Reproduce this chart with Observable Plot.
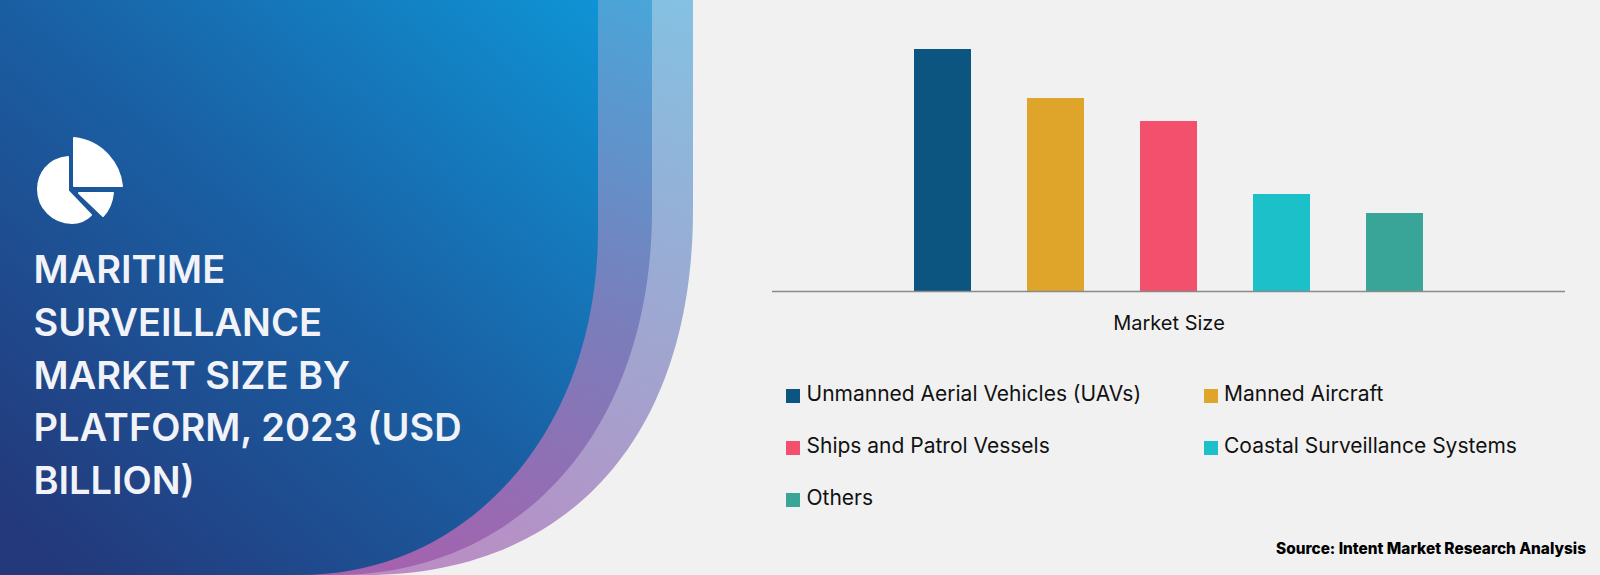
<!DOCTYPE html>
<html>
<head>
<meta charset="utf-8">
<script src="https://cdn.jsdelivr.net/npm/d3@7"></script>
<script src="https://cdn.jsdelivr.net/npm/@observablehq/plot@0.6"></script>
<style>
  html,body{margin:0;padding:0;background:#f1f1f1;}
  #page{position:relative;width:1600px;height:575px;overflow:hidden;background:#f1f1f1;font-family:Inter,"Noto Sans",sans-serif;}
  #panel{position:absolute;left:0;top:0;}
  #title{position:absolute;left:33.5px;top:243px;margin:0;color:#f1f3f8;font-size:38px;font-weight:600;line-height:52.8px;white-space:nowrap;}
  #chart{position:absolute;left:760px;top:0;}
  #legend{position:absolute;left:786px;top:367px;display:grid;grid-template-columns:417.5px auto;grid-auto-rows:52px;}
  .item{display:flex;align-items:center;height:52px;font-size:21px;color:#111;white-space:nowrap;}
  .swatch{width:14px;height:14px;margin-right:6.5px;position:relative;top:3px;}
  #source{position:absolute;right:14px;top:539px;font-size:15.4px;font-weight:800;color:#000;white-space:nowrap;}
</style>
</head>
<body>
<div id="page">
  <svg id="panel" width="760" height="575" viewBox="0 0 760 575">
    <defs>
      <linearGradient id="g1" gradientUnits="userSpaceOnUse" x1="70" y1="575" x2="590" y2="0">
        <stop offset="0" stop-color="#23397b"/><stop offset="0.5" stop-color="#1a5fa3"/><stop offset="1" stop-color="#0f93d4"/>
      </linearGradient>
      <linearGradient id="g2" gradientUnits="userSpaceOnUse" x1="400" y1="575" x2="640" y2="0">
        <stop offset="0" stop-color="#a562ae"/><stop offset="0.5" stop-color="#7b7dbb"/><stop offset="1" stop-color="#4aa5d8"/>
      </linearGradient>
      <linearGradient id="g3" gradientUnits="userSpaceOnUse" x1="420" y1="575" x2="680" y2="0">
        <stop offset="0" stop-color="#bb8cc4"/><stop offset="0.5" stop-color="#9fa6d0"/><stop offset="1" stop-color="#84c1e2"/>
      </linearGradient>
    </defs>
    <path fill="url(#g3)" d="M0,0 L693,0 L693,210 C693,435 570,575 365,575 L0,575 Z"/>
    <path fill="url(#g2)" d="M0,0 L652,0 L652,210 C652,430 520,575 335,575 L0,575 Z"/>
    <path fill="url(#g1)" d="M0,0 L598,0 L598,230 C598,430 470,575 300,575 L0,575 Z"/>
    <g fill="#fff" stroke="#fff" stroke-width="2" stroke-linejoin="round">
      <path d="M74,138 C103,141 120,165 122,186 L74,186 Z"/>
      <path d="M68,157 C48,159 38,174 38,189 C38,208 53,223 72,223 C80,223 86,220 91,215 L68,191 Z"/>
      <path d="M79,193 L113,193 C112,202 109,210 103,216 Z"/>
    </g>
  </svg>
  <h1 id="title">MARITIME<br>SURVEILLANCE<br>MARKET SIZE BY<br>PLATFORM, 2023 (USD<br>BILLION)</h1>
  <div id="chart"></div>
  <div id="legend"></div>
  <div id="source">Source: Intent Market Research Analysis</div>
</div>
<script>
const group = "Market Size";
const platforms = ["Unmanned Aerial Vehicles (UAVs)", "Manned Aircraft", "Ships and Patrol Vessels", "Coastal Surveillance Systems", "Others"];
const values = [12.1, 9.65, 8.5, 4.85, 3.9];
const colors = ["#0b5580", "#dfa52a", "#f2506c", "#1cc0c9", "#39a599"];

const rows = platforms.map((platform, i) => ({group, platform, value: values[i]}));

const chart = Plot.plot({
  width: 840,
  height: 345,
  marginTop: 49,
  marginBottom: 54,
  marginLeft: 12,
  marginRight: 35,
  style: {background: "transparent", fontFamily: "Inter, 'Noto Sans', sans-serif", fontSize: "20px", color: "#111"},
  fx: {domain: [group], padding: 0, label: null},
  x: {domain: platforms, range: [96.6, 719.2], padding: 0.5, axis: null},
  y: {domain: [0, 12.1], axis: null},
  color: {domain: platforms, range: colors},
  marks: [
    Plot.barY(rows, {fx: "group", x: "platform", y: "value", fill: "platform"}),
    Plot.ruleY([0], {stroke: "#8a8a8a", strokeWidth: 1.5}),
    Plot.axisFx({anchor: "bottom", tickSize: 0, tickPadding: 24, label: null, fontSize: 20})
  ]
});
document.getElementById("chart").append(chart);

const legend = d3.select("#legend");
platforms.forEach((p, i) => {
  const item = legend.append("div").attr("class", "item");
  item.append("span").attr("class", "swatch").style("background", colors[i]);
  item.append("span").text(p);
});
</script>
</body>
</html>
